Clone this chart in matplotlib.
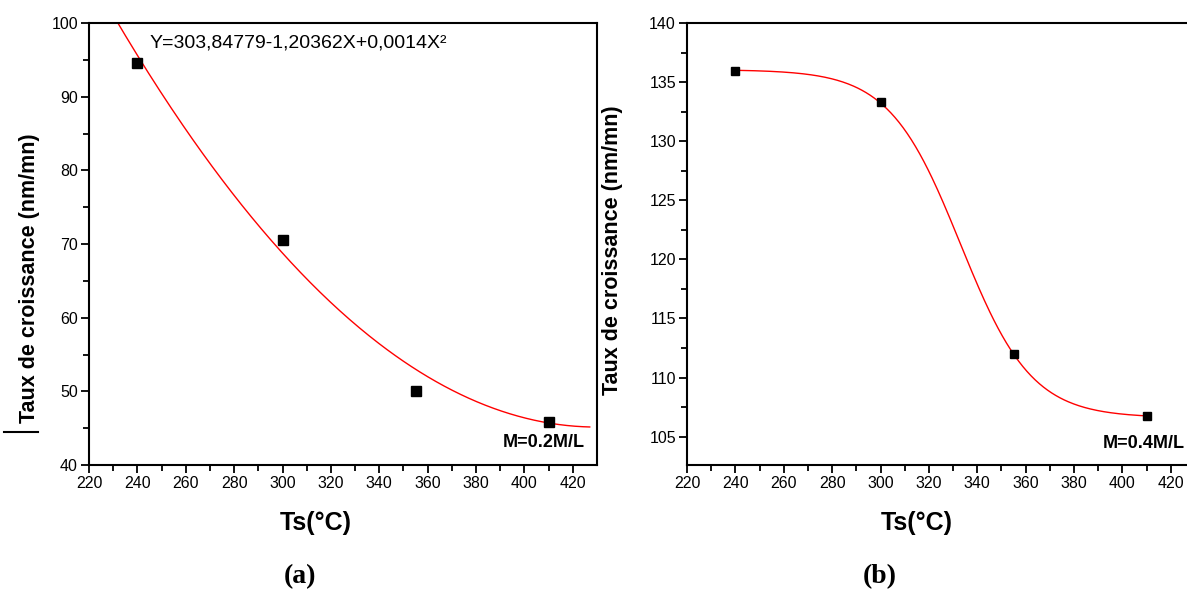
import numpy as np
import matplotlib
matplotlib.use("Agg")
import matplotlib.pyplot as plt
from matplotlib.lines import Line2D

plt.rcParams['font.family'] = ['Liberation Sans', 'DejaVu Sans']

# DATA
ts = [240, 300, 355, 410]
rate_a = [94.6, 70.6, 50.0, 45.9]
rate_b = [135.95, 133.35, 112.0, 106.75]

# fit (a): Y = c0 + c1 X + c2 X^2 (coefficients printed on the chart)
fit_a = [303.84779, -1.20362, 0.0014]
fit_a_range = [225, 427]
# fit (b): Boltzmann A1, A2, x0, dx
fit_b = [136.05, 106.6, 333.0, 14.7]
fit_b_range = [240, 410]

xticks = [220, 240, 260, 280, 300, 320, 340, 360, 380, 400, 420]
yticks_a = [40, 50, 60, 70, 80, 90, 100]
yticks_b = [105, 110, 115, 120, 125, 130, 135, 140]

W, H = 1187, 603
fig = plt.figure(figsize=(W / 100, H / 100), dpi=100)


def style_axes(ax):
    for sp in ax.spines.values():
        sp.set_linewidth(1.5)
    ax.tick_params(which="both", direction="out", width=1.3, top=False, right=False,
                   labelsize=11.5, pad=2)
    ax.tick_params(which="major", length=6)
    ax.tick_params(which="minor", length=4)
    ax.set_xticks(xticks)
    ax.set_xticks(np.arange(230, 430, 20), minor=True)
    ax.set_xlim(220, 430)


#PANEL A
ax1 = fig.add_axes([89 / W, (H - 465) / H, 508 / W, 442 / H])
style_axes(ax1)
xa = np.linspace(fit_a_range[0], fit_a_range[1], 300)
ya = fit_a[0] + fit_a[1] * xa + fit_a[2] * xa ** 2
ax1.plot(xa, ya, color='red', lw=1.0)
ax1.plot(ts, rate_a, 's', color='black', ms=7)
ax1.set_ylim(40, 100)
ax1.set_yticks(yticks_a)
ax1.set_yticks(np.arange(45, 100, 10), minor=True)
ax1.text(0.12, 0.955, 'Y=303,84779-1,20362X+0,0014X²', transform=ax1.transAxes,
         fontsize=14, va='center', ha='left')
ax1.text(0.975, 0.05, 'M=0.2M/L', transform=ax1.transAxes, fontsize=13,
         fontweight='bold', ha='right', va='center')

#PANEL B
ax2 = fig.add_axes([687 / W, (H - 465) / H, 508 / W, 442 / H])
style_axes(ax2)
xb = np.linspace(fit_b_range[0], fit_b_range[1], 300)
yb = fit_b[1] + (fit_b[0] - fit_b[1]) / (1 + np.exp((xb - fit_b[2]) / fit_b[3]))
ax2.plot(xb, yb, color='red', lw=1.0)
ax2.plot(ts, rate_b, 's', color='black', ms=6)
ax2.set_ylim(102.6, 140)
ax2.set_yticks(yticks_b)
ax2.set_yticks(np.arange(107.5, 140, 5), minor=True)
fig.text(1185 / W, 1 - 443 / H, 'M=0.4M/L', fontsize=13, fontweight='bold',
         ha='right', va='center')

# axis labels
ylab = 'Taux de croissance (nm/mn)'
fig.text(30 / W, 1 - 278 / H, ylab, rotation=90, fontsize=15.5, fontweight='bold',
         ha='center', va='center')
fig.text(613 / W, 1 - 250 / H, ylab, rotation=90, fontsize=15.5, fontweight='bold',
         ha='center', va='center')
fig.text(316 / W, 1 - 523 / H, 'Ts(°C)', fontsize=18, fontweight='bold',
         ha='center', va='center')
fig.text(917 / W, 1 - 523 / H, 'Ts(°C)', fontsize=18, fontweight='bold',
         ha='center', va='center')

fig.text(300 / W, 1 - 577 / H, '(a)', fontsize=20, fontweight='bold',
         family='Liberation Serif', ha='center', va='center')
fig.text(880 / W, 1 - 577 / H, '(b)', fontsize=20, fontweight='bold',
         family='Liberation Serif', ha='center', va='center')

# small stray mark left of panel (a)
fig.add_artist(Line2D([4 / W, 38 / W], [1 - 432 / H, 1 - 432 / H], color='black', lw=1.5))

fig.savefig('out.png', dpi=100)
